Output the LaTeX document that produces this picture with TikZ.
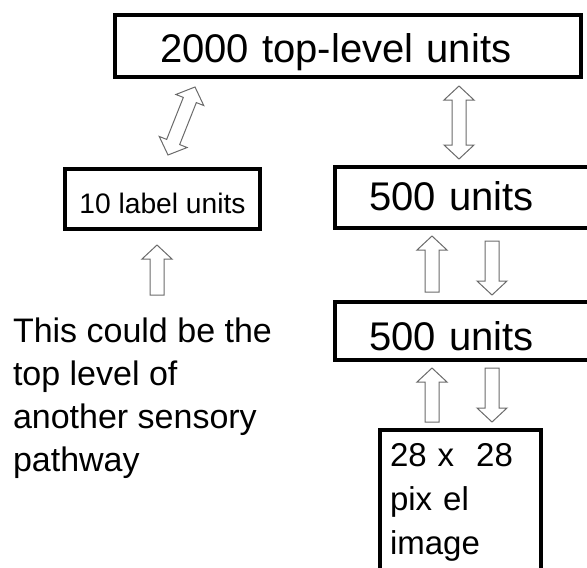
\documentclass[tikz,border=0pt]{standalone}
\usepackage{fontspec}
\setmainfont{Liberation Sans}
\usetikzlibrary{
calc,
positioning,
}
\tikzset{
outer sep=0pt,
layer/.style={rectangle, draw, line width=3.5pt, inner sep=0pt,
  text height=0.72em, text depth=0pt},
big/.style={font=\fontsize{40}{48}\selectfont},
fat/.style={draw=black!58, fill=white, line width=1pt, line join=miter},
% block arrow, tip at the target
oneway/.style={to path={
  ($(\tikztotarget)!14pt!(\tikztostart)$) coordinate (bt)
  ($(\tikztostart)!7pt!90:(\tikztotarget)$) -- ($(bt)!7pt!-90:(\tikztostart)$)
  -- ($(bt)!15pt!-90:(\tikztostart)$) -- (\tikztotarget)
  -- ($(bt)!15pt!90:(\tikztostart)$) -- ($(bt)!7pt!90:(\tikztostart)$)
  -- ($(\tikztostart)!7pt!-90:(\tikztotarget)$) -- cycle}},
% block arrow, tips at both ends
twoway/.style={to path={
  ($(\tikztostart)!14pt!(\tikztotarget)$) coordinate (bs)
  ($(\tikztotarget)!14pt!(\tikztostart)$) coordinate (bt)
  (\tikztostart) -- ($(bs)!15pt!90:(bt)$) -- ($(bs)!7pt!90:(bt)$)
  -- ($(bt)!7pt!-90:(bs)$) -- ($(bt)!15pt!-90:(bs)$) -- (\tikztotarget)
  -- ($(bt)!15pt!90:(bs)$) -- ($(bt)!7pt!90:(bs)$)
  -- ($(bs)!7pt!-90:(bt)$) -- ($(bs)!15pt!-90:(bt)$) -- cycle}},
}

\begin{document}
\begin{tikzpicture}[x=1pt, y=-1pt]
\useasboundingbox (0,0) rectangle (587,568);
% boxes
\node (top) [layer, big, minimum width=466pt, minimum height=62pt,
  text width=376pt, align=left, text height=32pt] at (348,46)
  {2000 top-level units};
\node (lab) [layer, font=\fontsize{28.2}{34}\selectfont, minimum width=195pt,
  minimum height=60pt, text height=28pt] at (162.5,199) {10 label units};
\node (mid) [layer, big, minimum width=265pt, minimum height=61pt,
  text width=197pt, align=left, text height=25pt] at (467.5,197.5) {500 units};
\node (low) [layer, big, minimum width=265pt, minimum height=58pt,
  text width=197pt, align=left, text height=38pt] at (467.5,331) {500 units};
\node (img) [layer, anchor=north, font=\fontsize{33}{44}\selectfont,
  text width=141pt, align=left, inner xsep=10pt, inner ysep=13pt,
  text height=, text depth=] at (460.5,430) {28 x\ \ 28\\pix el\\image};
\node (note) [anchor=north west, inner sep=0pt, align=left,
  font=\fontsize{34}{43}\selectfont] at (13,318)
  {This could be the\\top level of\\another sensory\\pathway};
% arrow ends
\coordinate (d1) at ($(lab.north)+(5.5,-14)$);
\coordinate (d2) at ($(top.south)+(-153,10)$);
\coordinate (d3) at ($(top.south)+(111,9)$);
\coordinate (d4) at ($(mid.north)+(-8.5,-8)$);
\coordinate (n1) at ($(lab.south)+(-5.5,66)$);
\coordinate (n2) at ($(lab.south)+(-5.5,16)$);
% arrows
\draw [fat] (d1) to [twoway] (d2);
\draw [fat] (d3) to [twoway] (d4);
\draw [fat] (n1) to [oneway] (n2);
\draw [fat] ($(low.north)+(-35.5,-10)$) to [oneway] ($(mid.south)+(-35.5,8)$);
\draw [fat] ($(mid.south)+(24.5,13)$) to [oneway] ($(low.north)+(24.5,-7)$);
\draw [fat] ($(img.north)+(-28.5,-8)$) to [oneway] ($(low.south)+(-35.5,8)$);
\draw [fat] ($(low.south)+(24.5,8)$) to [oneway] ($(img.north)+(31.5,-8)$);
\end{tikzpicture}
\end{document}
